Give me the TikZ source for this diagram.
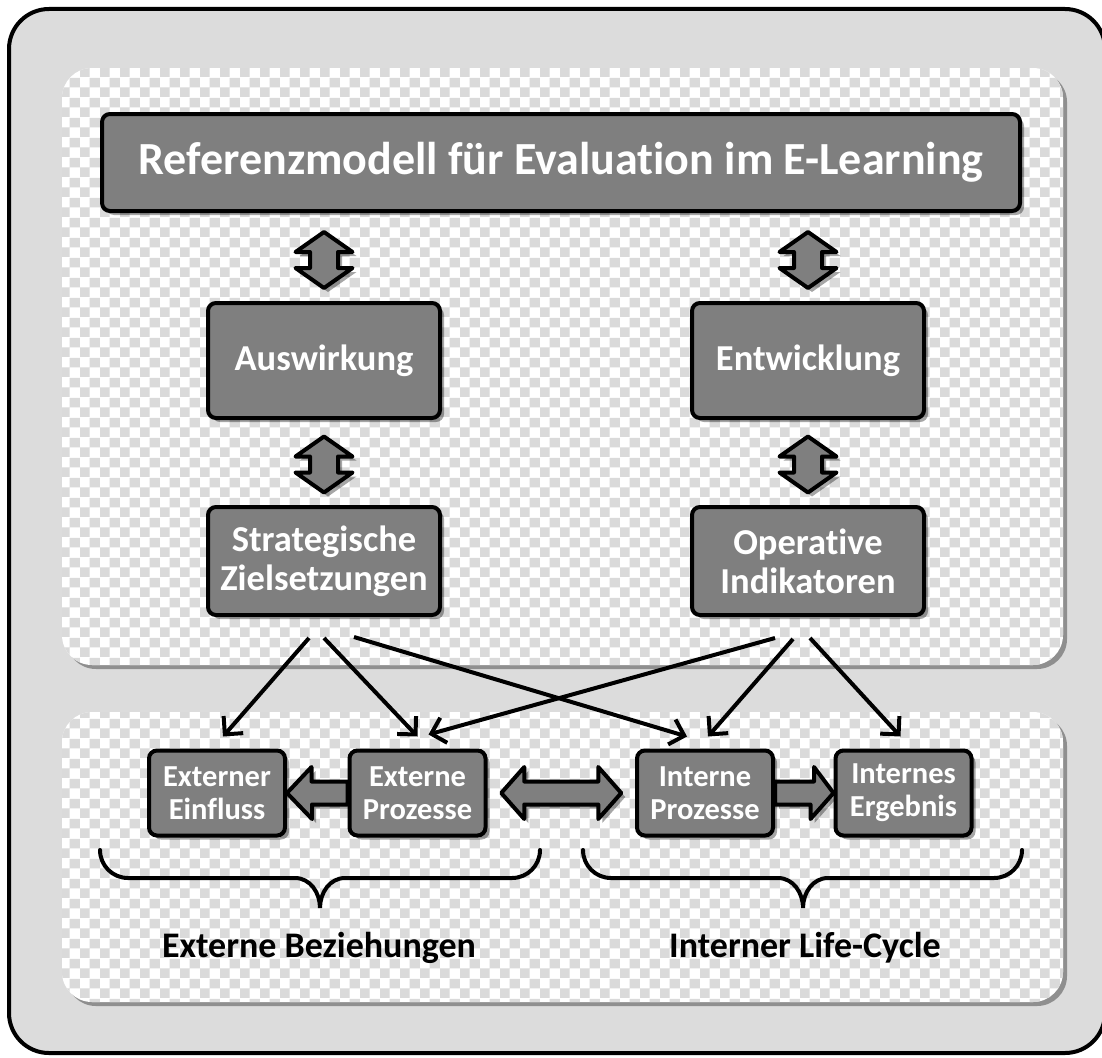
\documentclass[tikz,border=0pt]{standalone}
\usepackage{fontspec}
\setmainfont{Carlito}[Ligatures={NoCommon}]
\usetikzlibrary{arrows.meta,shadows,patterns.meta,calc}
\definecolor{bggray}{HTML}{DCDCDC}
\definecolor{chk}{HTML}{DADADA}
\definecolor{boxgray}{HTML}{7F7F7F}
\pgfdeclarepattern{
  name=checks, type=colored,
  bottom left={\pgfpointorigin}, top right={\pgfpoint{20pt}{20pt}},
  tile size={\pgfpoint{20pt}{20pt}},
  code={\pgfsetfillcolor{chk}%
    \pgfpathrectangle{\pgfpointorigin}{\pgfpoint{10pt}{10pt}}%
    \pgfpathrectangle{\pgfpoint{10pt}{10pt}}{\pgfpoint{10pt}{10pt}}%
    \pgfusepath{fill}}
}
\pgfdeclarelayer{back}
\pgfdeclarelayer{arr}
\pgfsetlayers{back,arr,main}
\tikzset{
  shad/.style={drop shadow={shadow xshift=4pt,shadow yshift=-4pt,opacity=0.35,fill=black}},
  panel/.style={fill=white,rounded corners=30pt,shad,postaction={pattern=checks}},
  box/.style={draw=black,line width=4pt,fill=boxgray,rounded corners=8pt,text=white,
    align=center,inner sep=0pt,shad},
  bigbox/.style={box,font=\bfseries\fontsize{36.5}{39}\selectfont,minimum width=232pt},
  smallbox/.style={box,font=\bfseries\fontsize{30.5}{33}\selectfont,minimum width=136pt,minimum height=85pt},
  blockarrow/.style={draw=black,line width=4pt,fill=boxgray,line join=round,shad},
  conn/.style={line width=4pt,-{Straight Barb[length=13pt,width=26pt]}},
  brace/.style={line width=4pt,line cap=round},
  lbl/.style={font=\bfseries\fontsize{36}{42}\selectfont,text=black},
  vdarrow/.pic={\path[blockarrow] (0,-28) -- (28.5,-8) -- (14,-8) -- (14,8) -- (28.5,8) -- (0,28)
      -- (-28.5,8) -- (-14,8) -- (-14,-8) -- (-28.5,-8) -- cycle;},
  hdarrow/.pic={\path[blockarrow] (-60,0) -- (-37,-26) -- (-37,-11.5) -- (37,-11.5) -- (37,-26) -- (60,0)
      -- (37,26) -- (37,11.5) -- (-37,11.5) -- (-37,26) -- cycle;}
}
\begin{document}
\begin{tikzpicture}[x=1pt,y=-1pt]
\useasboundingbox (0,0) rectangle (1102,1057);
\begin{pgfonlayer}{back}
\draw[line width=4pt,fill=bggray,rounded corners=40pt] (9,9) rectangle (1105,1053);
\path[panel] (62,68) rectangle (1063,665);
\path[panel] (62,712) rectangle (1063,1002);
\end{pgfonlayer}

\node[box,font=\bfseries\fontsize{46}{52}\selectfont,minimum width=918pt,minimum height=97pt] (title) at (561,162.5) {Referenzmodell für Evaluation im E-Learning};
\node[bigbox,minimum height=115pt] (aus) at (324,360.5) {Auswirkung};
\node[bigbox,minimum height=115pt] (ent) at (808,360.5) {Entwicklung};
\node[bigbox,minimum height=108pt] (str) at (324,561) {Strategische\\Zielsetzungen};
\node[bigbox,minimum height=108pt] (op) at (808,561) {Operative\\Indikatoren};
\node[smallbox] (ee) at (217,793) {Externer\\Einfluss};
\node[smallbox] (ep) at (417.5,793) {Externe\\Prozesse};
\node[smallbox] (ip) at (705,793) {Interne\\Prozesse};
\node[smallbox] (ie) at (903.5,793) {Internes\\Ergebnis};

\node[lbl] (lb1) at (319,948) {Externe Beziehungen};
\node[lbl] (lb2) at (805,948) {Interner Life-Cycle};

\begin{pgfonlayer}{arr}
\pic at ($(title.south -| aus.north)!0.5!(aus.north)+(0,3)$) {vdarrow};
\pic at ($(title.south -| ent.north)!0.5!(ent.north)+(0,3)$) {vdarrow};
\pic at ($(aus.south)!0.5!(str.north)+(0,2)$) {vdarrow};
\pic at ($(ent.south)!0.5!(op.north)+(0,2)$) {vdarrow};
\pic at ($(ep.east)!0.5!(ip.west)$) {hdarrow};
\path[blockarrow] ($(ep.west)+(0,-11.5)$) -- ++(-36,0) -- ++(0,-14.5) -- (ee.east)
  -- ++(25,26) -- ++(0,-14.5) -- ($(ep.west)+(0,11.5)$) -- cycle;
\path[blockarrow] ($(ip.east)+(0,-11.5)$) -- ++(39,0) -- ++(0,-14.5) -- (ie.west)
  -- ++(-23,26) -- ++(0,-14.5) -- ($(ip.east)+(0,11.5)$) -- cycle;
\end{pgfonlayer}

\coordinate (s1) at ($(str.south)+(-15,21)$);
\coordinate (s2) at ($(str.south)+(0,21)$);
\coordinate (s3) at ($(str.south)+(30,20)$);
\coordinate (o1) at ($(op.south)+(-33,21)$);
\coordinate (o2) at ($(op.south)+(-15,22)$);
\coordinate (o3) at ($(op.south)+(2,21)$);
\coordinate (eeT) at ($(ee.north)+(6,-12)$);
\coordinate (epT) at ($(ep.north)+(0,-12)$);
\coordinate (epT2) at ($(ep.north)+(11,-14)$);
\coordinate (ipT) at ($(ip.north)+(-18,-12)$);
\coordinate (ipT2) at ($(ip.north)+(3,-12)$);
\coordinate (ieT) at ($(ie.north)+(-3,-12)$);
\draw[conn] (s1) -- (eeT);
\draw[conn] (s2) -- (epT);
\draw[conn] (s3) -- (ipT);
\draw[conn] (o1) -- (epT2);
\draw[conn] (o2) -- (ipT2);
\draw[conn] (o3) -- (ieT);

\coordinate (b1a) at (100,850);
\coordinate (b1t) at (320,908);
\coordinate (b1b) at (540,850);
\draw[brace] (b1a) to[out=-90,in=180] ($(b1a)+(28,28)$) -- ($(b1t)+(-25,-30)$)
  to[out=0,in=90] (b1t) to[out=90,in=180] ($(b1t)+(25,-30)$) -- ($(b1b)+(-28,28)$)
  to[out=0,in=-90] (b1b);
\coordinate (b2a) at (583,850);
\coordinate (b2t) at (803,908);
\coordinate (b2b) at (1022,850);
\draw[brace] (b2a) to[out=-90,in=180] ($(b2a)+(28,28)$) -- ($(b2t)+(-25,-30)$)
  to[out=0,in=90] (b2t) to[out=90,in=180] ($(b2t)+(25,-30)$) -- ($(b2b)+(-28,28)$)
  to[out=0,in=-90] (b2b);
\end{tikzpicture}
\end{document}
